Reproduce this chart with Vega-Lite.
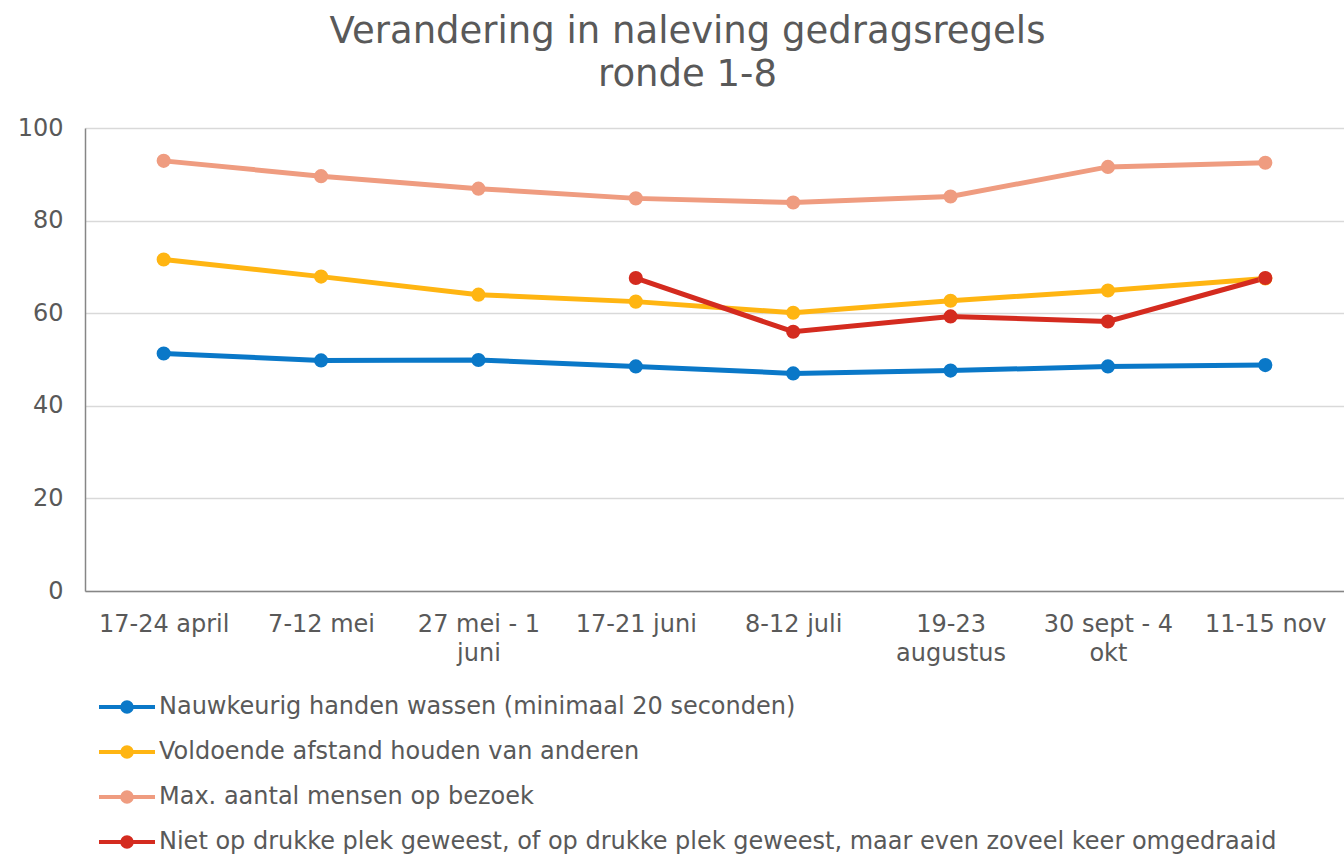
{
  "$schema": "https://vega.github.io/schema/vega-lite/v6.json",
  "width": 1259,
  "height": 463,
  "autosize": {"type": "none"},
  "padding": {"left": 85, "top": 128, "right": 0, "bottom": 263},
  "background": "white",
  "title": {
    "text": ["Verandering in naleving gedragsregels", "ronde 1-8"],
    "font": "DejaVu Sans",
    "fontSize": 37,
    "fontWeight": "normal",
    "lineHeight": 43,
    "color": "#595959",
    "anchor": "middle",
    "dx": -27,
    "offset": 22
  },
  "config": {
    "view": {"stroke": null},
    "axis": {
      "labelFont": "DejaVu Sans",
      "labelFontSize": 24,
      "labelColor": "#595959",
      "ticks": false,
      "domainColor": "#868686",
      "domainWidth": 1.5,
      "gridColor": "#D9D9D9",
      "gridWidth": 1.5,
      "title": null
    }
  },
  "data": {
    "values": [
      {"serie": "Nauwkeurig handen wassen (minimaal 20 seconden)", "ronde": "17-24 april", "waarde": 51.3},
      {"serie": "Nauwkeurig handen wassen (minimaal 20 seconden)", "ronde": "7-12 mei", "waarde": 49.8},
      {"serie": "Nauwkeurig handen wassen (minimaal 20 seconden)", "ronde": "27 mei - 1 juni", "waarde": 49.9},
      {"serie": "Nauwkeurig handen wassen (minimaal 20 seconden)", "ronde": "17-21 juni", "waarde": 48.5},
      {"serie": "Nauwkeurig handen wassen (minimaal 20 seconden)", "ronde": "8-12 juli", "waarde": 47.0},
      {"serie": "Nauwkeurig handen wassen (minimaal 20 seconden)", "ronde": "19-23 augustus", "waarde": 47.6},
      {"serie": "Nauwkeurig handen wassen (minimaal 20 seconden)", "ronde": "30 sept - 4 okt", "waarde": 48.5},
      {"serie": "Nauwkeurig handen wassen (minimaal 20 seconden)", "ronde": "11-15 nov", "waarde": 48.8},
      {"serie": "Voldoende afstand houden van anderen", "ronde": "17-24 april", "waarde": 71.6},
      {"serie": "Voldoende afstand houden van anderen", "ronde": "7-12 mei", "waarde": 67.9},
      {"serie": "Voldoende afstand houden van anderen", "ronde": "27 mei - 1 juni", "waarde": 64.0},
      {"serie": "Voldoende afstand houden van anderen", "ronde": "17-21 juni", "waarde": 62.5},
      {"serie": "Voldoende afstand houden van anderen", "ronde": "8-12 juli", "waarde": 60.1},
      {"serie": "Voldoende afstand houden van anderen", "ronde": "19-23 augustus", "waarde": 62.7},
      {"serie": "Voldoende afstand houden van anderen", "ronde": "30 sept - 4 okt", "waarde": 64.9},
      {"serie": "Voldoende afstand houden van anderen", "ronde": "11-15 nov", "waarde": 67.5},
      {"serie": "Max. aantal mensen op bezoek", "ronde": "17-24 april", "waarde": 92.9},
      {"serie": "Max. aantal mensen op bezoek", "ronde": "7-12 mei", "waarde": 89.6},
      {"serie": "Max. aantal mensen op bezoek", "ronde": "27 mei - 1 juni", "waarde": 86.9},
      {"serie": "Max. aantal mensen op bezoek", "ronde": "17-21 juni", "waarde": 84.8},
      {"serie": "Max. aantal mensen op bezoek", "ronde": "8-12 juli", "waarde": 83.9},
      {"serie": "Max. aantal mensen op bezoek", "ronde": "19-23 augustus", "waarde": 85.2},
      {"serie": "Max. aantal mensen op bezoek", "ronde": "30 sept - 4 okt", "waarde": 91.6},
      {"serie": "Max. aantal mensen op bezoek", "ronde": "11-15 nov", "waarde": 92.5},
      {"serie": "Niet op drukke plek geweest, of op drukke plek geweest, maar even zoveel keer omgedraaid", "ronde": "17-21 juni", "waarde": 67.6},
      {"serie": "Niet op drukke plek geweest, of op drukke plek geweest, maar even zoveel keer omgedraaid", "ronde": "8-12 juli", "waarde": 56.0},
      {"serie": "Niet op drukke plek geweest, of op drukke plek geweest, maar even zoveel keer omgedraaid", "ronde": "19-23 augustus", "waarde": 59.3},
      {"serie": "Niet op drukke plek geweest, of op drukke plek geweest, maar even zoveel keer omgedraaid", "ronde": "30 sept - 4 okt", "waarde": 58.2},
      {"serie": "Niet op drukke plek geweest, of op drukke plek geweest, maar even zoveel keer omgedraaid", "ronde": "11-15 nov", "waarde": 67.6}
    ]
  },
  "mark": {
    "type": "line",
    "strokeWidth": 5,
    "point": {"filled": true, "size": 200, "opacity": 1}
  },
  "encoding": {
    "x": {
      "field": "ronde",
      "type": "ordinal",
      "sort": ["17-24 april", "7-12 mei", "27 mei - 1 juni", "17-21 juni", "8-12 juli", "19-23 augustus", "30 sept - 4 okt", "11-15 nov"],
      "scale": {"type": "point", "padding": 0.5},
      "axis": {
        "labelAngle": 0,
        "labelPadding": 21,
        "labelLineHeight": 29,
        "labelBaseline": "top",
        "labelExpr": "datum.label == '27 mei - 1 juni' ? ['27 mei - 1', 'juni'] : datum.label == '19-23 augustus' ? ['19-23', 'augustus'] : datum.label == '30 sept - 4 okt' ? ['30 sept - 4', 'okt'] : datum.label",
        "grid": false
      }
    },
    "y": {
      "field": "waarde",
      "type": "quantitative",
      "scale": {"domain": [0, 100], "nice": false},
      "axis": {"values": [0, 20, 40, 60, 80, 100], "labelPadding": 22, "grid": true}
    },
    "color": {
      "field": "serie",
      "type": "nominal",
      "sort": null,
      "scale": {
        "domain": ["Nauwkeurig handen wassen (minimaal 20 seconden)", "Voldoende afstand houden van anderen", "Max. aantal mensen op bezoek", "Niet op drukke plek geweest, of op drukke plek geweest, maar even zoveel keer omgedraaid"],
        "range": ["#0A78C8", "#FFB512", "#EF9C80", "#D42B1F"]
      },
      "legend": {
        "title": null,
        "orient": "none",
        "direction": "vertical",
        "legendX": 26,
        "legendY": 563,
        "padding": 0,
        "symbolType": "M-2,0L2,0M0.34,0A0.34,0.34,0,1,1,-0.34,0A0.34,0.34,0,1,1,0.34,0Z",
        "symbolSize": 784,
        "symbolStrokeWidth": 4,
        "labelFont": "DejaVu Sans",
        "labelFontSize": 24,
        "labelColor": "#595959",
        "labelOffset": 16,
        "labelLimit": 1300,
        "rowPadding": 16,
        "encode": {
          "symbols": {"update": {"fill": {"scale": "color", "field": "value"}, "opacity": {"value": 1}}}
        }
      }
    }
  }
}
